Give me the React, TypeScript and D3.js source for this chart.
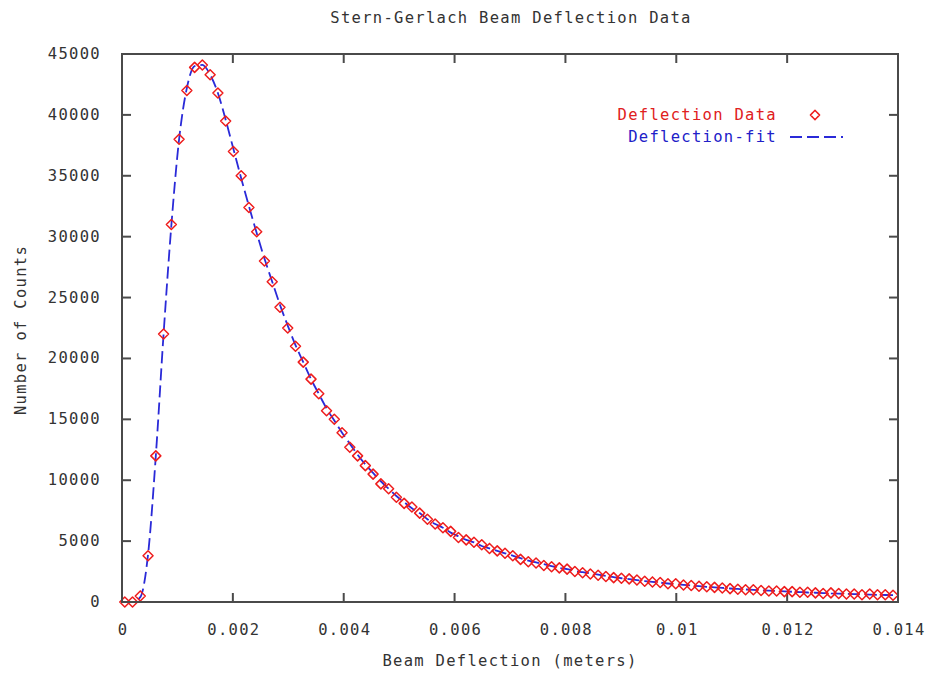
import React from "react";
import * as d3 from "d3";

const W = 932;
const H = 674;

const titleText = "Stern-Gerlach Beam Deflection Data";
const xLabel = "Beam Deflection (meters)";
const yLabel = "Number of Counts";
const legendData = "Deflection Data";
const legendFit = "Deflection-fit";

const xTicks = [0, 0.002, 0.004, 0.006, 0.008, 0.01, 0.012, 0.014];
const yTicks = [0, 5000, 10000, 15000, 20000, 25000, 30000, 35000, 40000, 45000];

const xStart = 0.00005;
const xStep = 0.00014;

// data counts (one per deflection step)
const dataCounts = [
  0, 0, 500, 3800, 12000, 22000, 31000, 38000, 42000, 43900,
  44100, 43300, 41800, 39500, 37000, 35000, 32400, 30400, 28000, 26300,
  24200, 22500, 21000, 19700, 18300, 17100, 15700, 15000, 13900, 12700,
  12000, 11200, 10500, 9700, 9300, 8600, 8100, 7800, 7300, 6800,
  6400, 6100, 5800, 5300, 5100, 4900, 4700, 4400, 4200, 4000,
  3800, 3500, 3300, 3200, 3000, 2900, 2800, 2700, 2500, 2400,
  2300, 2200, 2100, 2000, 1950, 1900, 1800, 1700, 1650, 1600,
  1500, 1500, 1400, 1350, 1300, 1250, 1200, 1150, 1100, 1050,
  1000, 1000, 950, 900, 900, 850, 850, 800, 800, 750,
  700, 750, 700, 650, 650, 600, 650, 600, 600, 550,
];

// fit curve values read at the same steps
const fitCounts = [
  0, 0, 400, 3900, 12000, 22000, 30900, 38000, 42200, 44000,
  44100, 43300, 41800, 39600, 37200, 34800, 32500, 30300, 28200, 26300,
  24400, 22700, 21100, 19700, 18300, 17100, 15900, 14900, 13900, 13000,
  12100, 11300, 10600, 9900, 9300, 8700, 8200, 7700, 7300, 6800,
  6400, 6100, 5700, 5400, 5100, 4900, 4600, 4400, 4200, 4000,
  3800, 3600, 3400, 3250, 3100, 2950, 2800, 2700, 2550, 2450,
  2350, 2250, 2150, 2050, 1950, 1880, 1800, 1720, 1650, 1590,
  1520, 1460, 1400, 1350, 1300, 1250, 1200, 1160, 1110, 1070,
  1030, 1000, 960, 930, 900, 870, 840, 810, 780, 760,
  730, 710, 690, 670, 650, 630, 610, 590, 575, 560,
];

const FONT = "'DejaVu Sans Mono', monospace";

export default function App() {
  const left = 122;
  const right = 898;
  const top = 54;
  const bottom = 602;

  const x = d3.scaleLinear().domain([0, 0.014]).range([left, right]);
  const y = d3.scaleLinear().domain([0, 45000]).range([bottom, top]);
  const fmt = d3.format("~g");

  const pts = dataCounts.map((v, i) => ({ x: xStart + i * xStep, y: v }));
  const fitPts = [{ x: 0, y: 0 }].concat(
    fitCounts.map((v, i) => ({ x: xStart + i * xStep, y: v }))
  );

  const line = d3
    .line<{ x: number; y: number }>()
    .x((d) => x(d.x))
    .y((d) => y(d.y))
    .curve(d3.curveMonotoneX);

  // rounded diamond marker (gnuplot-like)
  const diamond = (cx: number, cy: number, r: number) => {
    const c = r * 0.35;
    return `M${cx - c},${cy - r + c}L${cx},${cy - r}L${cx + c},${cy - r + c}` +
      `L${cx + r - c},${cy - c}L${cx + r},${cy}L${cx + r - c},${cy + c}` +
      `L${cx + c},${cy + r - c}L${cx},${cy + r}L${cx - c},${cy + r - c}` +
      `L${cx - r + c},${cy + c}L${cx - r},${cy}L${cx - r + c},${cy - c}Z`;
  };

  const axisColor = "#4a4a4a";
  const tickLen = 9;
  const textStyle: React.CSSProperties = {
    fontFamily: FONT,
    fontSize: 15.5,
    letterSpacing: 1.3,
    fill: "#333",
  };

  return (
    <svg
      width={W}
      height={H}
      style={{ position: "absolute", left: 0, top: 0, background: "#fff" }}
    >
      <rect x={0} y={0} width={W} height={H} fill="#fff" />
      {/* title */}
      <text x={511} y={23} textAnchor="middle" style={textStyle}>
        {titleText}
      </text>

      {/* ticks */}
      {yTicks.map((t) => (
        <g key={"y" + t}>
          <line x1={left} x2={left + tickLen} y1={y(t)} y2={y(t)} stroke={axisColor} strokeWidth={2} />
          <line x1={right} x2={right - tickLen} y1={y(t)} y2={y(t)} stroke={axisColor} strokeWidth={2} />
          <text x={101} y={y(t) + 5} textAnchor="end" style={textStyle}>
            {String(t)}
          </text>
        </g>
      ))}
      {xTicks.map((t) => (
        <g key={"x" + t}>
          <line x1={x(t)} x2={x(t)} y1={bottom} y2={bottom - tickLen} stroke={axisColor} strokeWidth={2} />
          <line x1={x(t)} x2={x(t)} y1={top} y2={top + tickLen} stroke={axisColor} strokeWidth={2} />
          <text x={x(t) + 1} y={635} textAnchor="middle" style={textStyle}>
            {fmt(t)}
          </text>
        </g>
      ))}

      {/* fit line */}
      <path
        d={line(fitPts) || ""}
        fill="none"
        stroke="#2a2ad8"
        strokeWidth={1.8}
        strokeDasharray="12,5"
      />

      {/* data points */}
      {pts.map((p, i) => (
        <path
          key={i}
          d={diamond(x(p.x), y(p.y), 5)}
          fill="none"
          stroke="#ee1c1c"
          strokeWidth={1.5}
          strokeLinejoin="round"
        />
      ))}

      {/* frame */}
      <rect
        x={left}
        y={top}
        width={right - left}
        height={bottom - top}
        fill="none"
        stroke={axisColor}
        strokeWidth={2}
      />

      {/* axis labels */}
      <text x={510} y={666} textAnchor="middle" style={textStyle}>
        {xLabel}
      </text>
      <text
        transform={`translate(26,330) rotate(-90)`}
        textAnchor="middle"
        style={textStyle}
      >
        {yLabel}
      </text>

      {/* legend */}
      <text x={777} y={120} textAnchor="end" style={{ ...textStyle, fill: "#e02020" }}>
        {legendData}
      </text>
      <path
        d={diamond(815, 115, 4.6)}
        fill="none"
        stroke="#ee1c1c"
        strokeWidth={1.5}
        strokeLinejoin="round"
      />
      <text x={777} y={142} textAnchor="end" style={{ ...textStyle, fill: "#2020c8" }}>
        {legendFit}
      </text>
      <line
        x1={790}
        x2={843}
        y1={137}
        y2={137}
        stroke="#2a2ad8"
        strokeWidth={1.8}
        strokeDasharray="12,5"
      />
    </svg>
  );
}
